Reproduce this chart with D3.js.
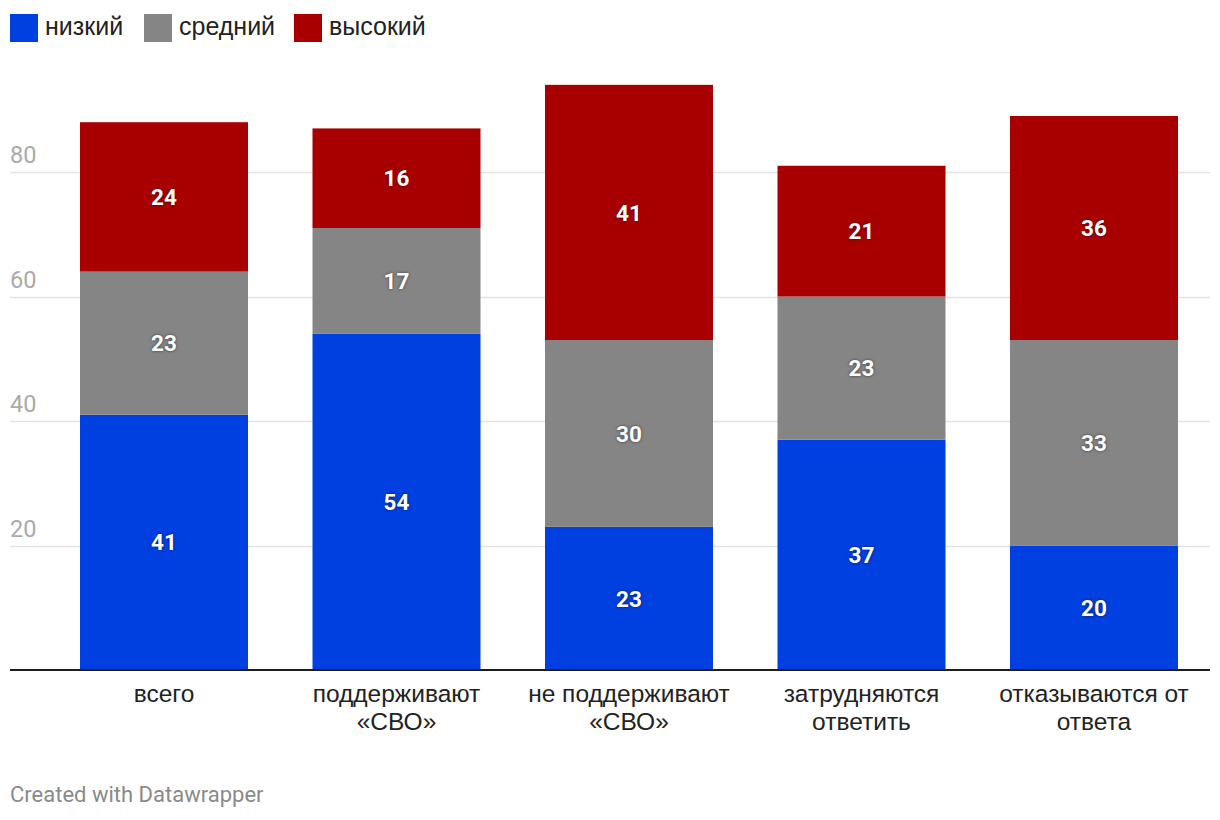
<!DOCTYPE html>
<html><head><meta charset="utf-8">
<script src="https://cdn.jsdelivr.net/npm/d3@7/dist/d3.min.js"></script>
<style>body{margin:0;background:#fff;}svg{display:block;} .hv{font-family:'Liberation Sans', Arial, Helvetica, sans-serif;} .rb{font-family:Roboto, sans-serif;}</style>
</head><body>
<svg id="c" width="1220" height="820"></svg>
<script>
const categories = [["всего"],["поддерживают","«СВО»"],["не поддерживают","«СВО»"],["затрудняются","ответить"],["отказываются от","ответа"]];
const seriesNames = ["низкий","средний","высокий"];
const seriesColors = ["#0040e0","#858585","#a80000"];
const low = [41,54,23,37,20];
const mid = [23,17,30,23,33];
const high = [24,16,41,21,36];
const yTicks = [20,40,60,80];

const svg = d3.select("#c");
const series = [low, mid, high];
const x = d3.scaleBand().domain(d3.range(categories.length)).range([80,1178]).paddingInner(0.2774).paddingOuter(0);
const y = d3.scaleLinear().domain([0,80]).range([670,172]);

const g = svg.append("g");
yTicks.forEach(t=>{
  g.append("line").attr("x1",10).attr("x2",1210).attr("y1",Math.round(y(t))+0.5).attr("y2",Math.round(y(t))+0.5)
   .attr("stroke","#e3e3e3").attr("stroke-width",1.5);
  g.append("text").attr("class","rb").attr("x",10).attr("y",y(t)-9).text(t)
   .attr("font-size",23.5).attr("fill","#aaaaaa");
});

categories.forEach((c,i)=>{
  let base = 0;
  series.forEach((s,k)=>{
    const v = s[i];
    svg.append("rect").attr("x",x(i)).attr("width",x.bandwidth())
      .attr("y",y(base+v)).attr("height",y(base)-y(base+v)).attr("fill",seriesColors[k]);
    base += v;
  });
});
categories.forEach((c,i)=>{
  let base = 0;
  series.forEach((s,k)=>{
    const v = s[i];
    svg.append("text").attr("class","rb").attr("x",x(i)+x.bandwidth()/2).attr("y",y(base+v/2)).attr("dy","0.36em")
      .attr("text-anchor","middle").attr("font-weight","bold").attr("font-size",22.5)
      .attr("fill","#fff").style("text-shadow","0 0 3px rgba(0,0,0,0.6)").text(v);
    base += v;
  });
});

svg.append("line").attr("x1",10).attr("x2",1210).attr("y1",y(0)).attr("y2",y(0)).attr("stroke","#1d1d1d").attr("stroke-width",2);

categories.forEach((c,i)=>{
  const t = svg.append("text").attr("class","hv").attr("text-anchor","middle").attr("font-size",24.5).attr("fill","#222");
  c.forEach((line,j)=>{
    t.append("tspan").attr("x",x(i)+x.bandwidth()/2).attr("y",702+j*28).text(line);
  });
});

const legX = [10,144,294];
seriesNames.forEach((n,k)=>{
  svg.append("rect").attr("x",legX[k]).attr("y",14).attr("width",28).attr("height",28).attr("fill",seriesColors[k]);
  svg.append("text").attr("class","hv").attr("x",legX[k]+35).attr("y",35).text(n).attr("font-size",25).attr("fill","#222");
});

svg.append("text").attr("class","rb").attr("x",10).attr("y",802).text("Created with Datawrapper").attr("font-size",22).attr("fill","#8a8a8a");
</script>
</body></html>
